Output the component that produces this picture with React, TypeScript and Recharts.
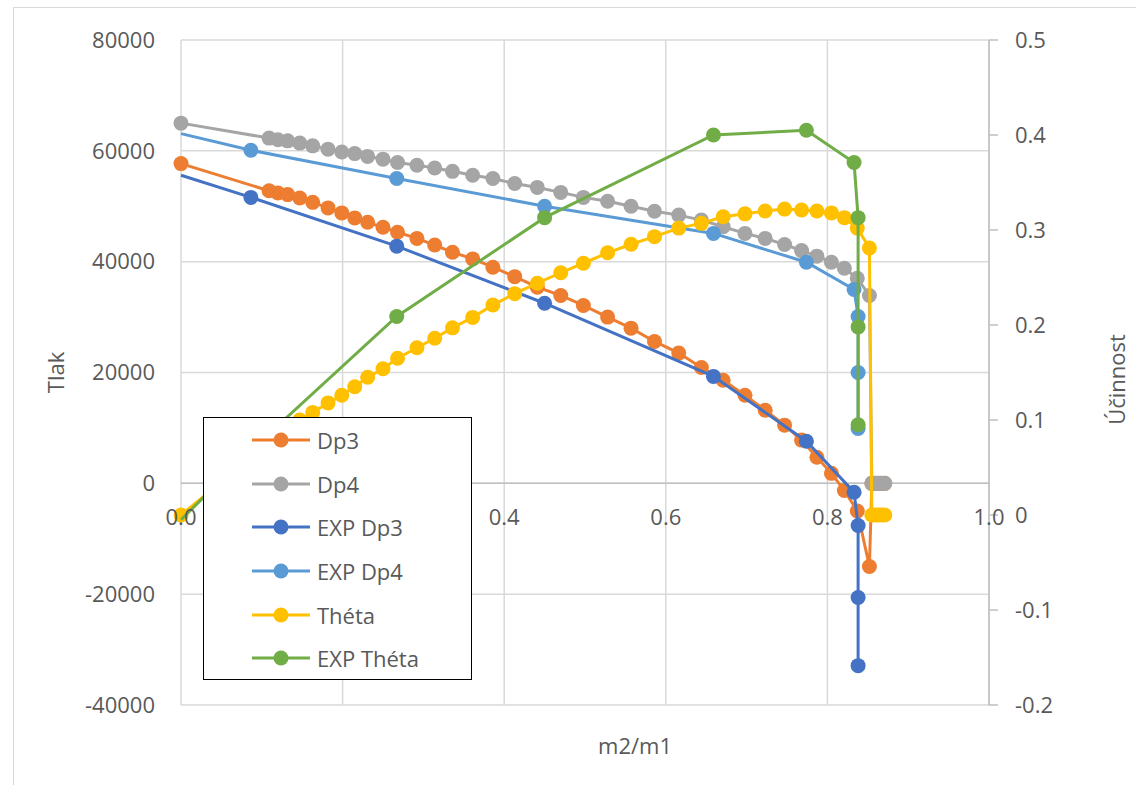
import React from "react";
import {
  ScatterChart,
  Scatter,
  XAxis,
  YAxis,
  CartesianGrid,
  ReferenceLine,
  Legend,
  Label,
} from "recharts";

document.body.style.margin = "0";
document.body.style.overflow = "hidden";

// simulated series share one m2/m1 grid
const simX = [
  0, 0.109, 0.12, 0.132, 0.147, 0.163, 0.182, 0.199, 0.215, 0.231, 0.25, 0.268,
  0.292, 0.314, 0.336, 0.361, 0.386, 0.413, 0.441, 0.47, 0.498, 0.528, 0.557,
  0.586, 0.616, 0.644, 0.671, 0.698, 0.723, 0.747, 0.768, 0.787, 0.805, 0.821,
  0.837, 0.852, 0.855, 0.859, 0.863, 0.867, 0.871,
];
const dp3 = [
  57700, 52800, 52400, 52100, 51500, 50700, 49700, 48800, 47900, 47100, 46200,
  45300, 44200, 43000, 41700, 40500, 39000, 37300, 35400, 33900, 32100, 30000,
  28000, 25600, 23500, 20900, 18600, 15900, 13200, 10500, 7800, 4700, 1800,
  -1300, -5000, -15000, 0, 0, 0, 0, 0,
];
const dp4 = [
  65000, 62300, 62000, 61800, 61400, 60900, 60300, 59800, 59500, 59000, 58500,
  57900, 57400, 56900, 56300, 55600, 55000, 54100, 53400, 52500, 51600, 50900,
  50000, 49100, 48400, 47500, 46300, 45100, 44200, 43100, 42000, 41000, 39900,
  38800, 37000, 33900, 0, 0, 0, 0, 0,
];
const theta = [
  0, 0.076, 0.084, 0.092, 0.1, 0.108, 0.118, 0.126, 0.135, 0.145, 0.154, 0.165,
  0.176, 0.186, 0.197, 0.208, 0.221, 0.233, 0.244, 0.255, 0.265, 0.276, 0.285,
  0.293, 0.302, 0.307, 0.314, 0.317, 0.32, 0.322, 0.321, 0.32, 0.318, 0.313,
  0.302, 0.281, 0, 0, 0, 0, 0,
];

// experiment
const expX = [0, 0.0865, 0.267, 0.45, 0.659, 0.774, 0.833, 0.838, 0.838, 0.838];
const expDp3 = [55600, 51600, 42800, 32500, 19300, 7600, -1600, -7600, -20600, -32900];
const expDp4 = [63100, 60100, 55000, 50000, 45100, 39900, 35000, 30100, 20000, 9900];
const expTheta = [-0.005, 0.068, 0.209, 0.313, 0.4, 0.405, 0.371, 0.313, 0.198, 0.095];

const xTicks = [0, 0.2, 0.4, 0.6, 0.8, 1.0];
const leftTicks = [-40000, -20000, 0, 20000, 40000, 60000, 80000];
const rightTicks = [-0.2, -0.1, 0, 0.1, 0.2, 0.3, 0.4, 0.5];

const W = 1136;
const H = 785;
const MARGIN = { top: 40, right: 47, bottom: 0, left: 81 };
const X_AXIS_H = 80;
const PLOT_H = H - MARGIN.top - MARGIN.bottom - X_AXIS_H;
const LEFT_MIN = leftTicks[0];
const LEFT_MAX = leftTicks[leftTicks.length - 1];
const ZERO_Y = MARGIN.top + (PLOT_H * LEFT_MAX) / (LEFT_MAX - LEFT_MIN);

const FONT = "'Open Sans', Carlito, Calibri, sans-serif";
const FS = 22;
const TXT = "#595959";

const pts = (xs: number[], ys: number[]) => xs.map((x, i) => ({ x, y: ys[i] }));

const series = [
  { name: "Dp3", data: pts(simX, dp3), color: "#ED7D31", axis: "left", edge: true },
  { name: "Dp4", data: pts(simX, dp4), color: "#A5A5A5", axis: "left", edge: true },
  { name: "EXP Dp3", data: pts(expX, expDp3), color: "#4472C4", axis: "left", edge: false },
  { name: "EXP Dp4", data: pts(expX, expDp4), color: "#5B9BD5", axis: "left", edge: false },
  { name: "Théta", data: pts(simX, theta), color: "#FFC000", axis: "right", edge: true },
  { name: "EXP Théta", data: pts(expX, expTheta), color: "#70AD47", axis: "right", edge: false },
];

// EXP lines enter the plot at m2/m1 = 0 without a marker there
const marker = (color: string, edge: boolean) => (p: any) => {
  if (!edge && p.payload && p.payload.x <= 0) return <g />;
  return <circle cx={p.cx} cy={p.cy} r={7.5} fill={color} />;
};

const XTick = (p: any) => (
  <text
    x={p.x}
    y={ZERO_Y + 33}
    textAnchor="middle"
    dominantBaseline="central"
    fill={TXT}
    fontSize={FS}
    fontFamily={FONT}
  >
    {Number(p.payload.value).toFixed(1)}
  </text>
);

const AxisTitle = (dx: number, dy: number, rotate: boolean) => (p: any) => {
  const vb = p.viewBox || { x: 0, y: 0, width: 0, height: 0 };
  const cx = vb.x + vb.width / 2 + dx;
  const cy = vb.y + vb.height / 2 + dy;
  return (
    <text
      x={cx}
      y={cy}
      transform={rotate ? `rotate(-90 ${cx} ${cy})` : undefined}
      textAnchor="middle"
      dominantBaseline="central"
      fill={TXT}
      fontSize={FS}
      fontFamily={FONT}
    >
      {p.value}
    </text>
  );
};

const renderLegend = (props: any) => {
  const colorOf = (name: string) => {
    const hit = (props.payload || []).find((e: any) => e.value === name);
    return hit ? hit.color : series.find((s) => s.name === name)!.color;
  };
  return (
    <div style={{ display: "flex", flexDirection: "column", fontFamily: FONT }}>
      {series.map((s) => (
        <div key={s.name} style={{ height: 43.7, display: "flex", alignItems: "center" }}>
          <svg width={106} height={20} style={{ flex: "none" }}>
            <line x1={48} x2={106} y1={10} y2={10} stroke={colorOf(s.name)} strokeWidth={3} />
            <circle cx={77} cy={10} r={7.5} fill={colorOf(s.name)} />
          </svg>
          <span style={{ marginLeft: 7, fontSize: FS, color: TXT, lineHeight: 1 }}>{s.name}</span>
        </div>
      ))}
    </div>
  );
};

export default function App() {
  return (
    <div style={{ position: "relative", width: W, height: H, overflow: "hidden", background: "#fff" }}>
      <div
        style={{
          position: "absolute",
          left: 13,
          top: 7,
          width: 1200,
          height: 900,
          border: "1.5px solid #d9d9d9",
        }}
      />
      <ScatterChart width={W} height={H} margin={MARGIN}>
        <CartesianGrid yAxisId="left" stroke="#d9d9d9" strokeWidth={1.5} />
        <XAxis
          type="number"
          dataKey="x"
          domain={[0, 1]}
          ticks={xTicks}
          height={X_AXIS_H}
          axisLine={false}
          tickLine={false}
          tick={XTick}
        >
          <Label value="m2/m1" content={AxisTitle(50, 0, false)} />
        </XAxis>
        <YAxis
          yAxisId="left"
          type="number"
          dataKey="y"
          domain={[LEFT_MIN, LEFT_MAX]}
          ticks={leftTicks}
          width={100}
          axisLine={false}
          tickLine={false}
          tickSize={0}
          tickMargin={26}
          tick={{ fill: TXT, fontSize: FS, fontFamily: FONT }}
        >
          <Label value="Tlak" content={AxisTitle(-76, 0, true)} />
        </YAxis>
        <YAxis
          yAxisId="right"
          orientation="right"
          type="number"
          dataKey="y"
          domain={[-0.2, 0.5]}
          ticks={rightTicks}
          width={100}
          axisLine={{ stroke: "#bfbfbf", strokeWidth: 1.5 }}
          tickLine={{ stroke: "#bfbfbf", strokeWidth: 1.5 }}
          tickSize={9}
          tickMargin={17}
          tickFormatter={(v: number) => (Math.abs(v) < 1e-9 ? "0" : v.toFixed(1))}
          tick={{ fill: TXT, fontSize: FS, fontFamily: FONT }}
        >
          <Label value="Účinnost" content={AxisTitle(77, 7, true)} />
        </YAxis>
        <ReferenceLine yAxisId="left" y={0} stroke="#bfbfbf" strokeWidth={1.5} />
        {series.map((s) => (
          <Scatter
            key={s.name}
            name={s.name}
            data={s.data}
            yAxisId={s.axis}
            fill={s.color}
            line={{ stroke: s.color, strokeWidth: 3 }}
            lineType="joint"
            shape={marker(s.color, s.edge)}
            isAnimationActive={false}
          />
        ))}
        <Legend
          layout="vertical"
          align="center"
          verticalAlign="middle"
          content={renderLegend}
          wrapperStyle={{
            left: 203,
            top: 417,
            width: 269,
            height: 263,
            border: "1.5px solid #000",
            background: "#fff",
            boxSizing: "border-box",
          }}
        />
      </ScatterChart>
    </div>
  );
}
